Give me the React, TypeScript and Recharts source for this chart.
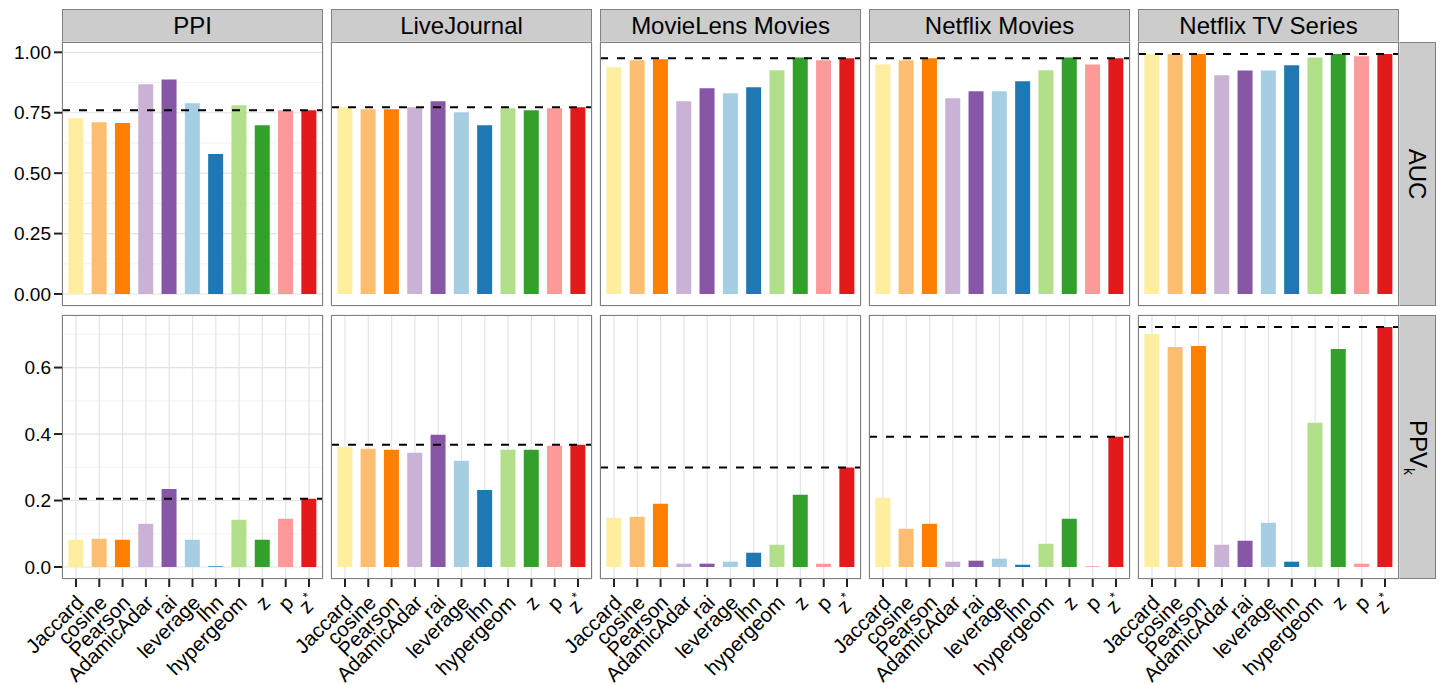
import React from "react";
import { BarChart, Bar, Cell, XAxis, YAxis, CartesianGrid, ReferenceLine } from "recharts";

const methods = ["Jaccard", "cosine", "Pearson", "AdamicAdar", "rai", "leverage", "lhn", "hypergeom", "z", "p", "z*"];
const methodColors = ["#FFEDA0", "#FDBF6F", "#FF7F00", "#CAB2D6", "#8856A7", "#A6CEE3", "#1F78B4", "#B2DF8A", "#33A02C", "#FB9A99", "#E31A1C"];
const datasets = ["PPI", "LiveJournal", "MovieLens Movies", "Netflix Movies", "Netflix TV Series"];

// AUC per dataset (same order as methods)
const aucPPI = [0.727, 0.711, 0.707, 0.868, 0.888, 0.789, 0.579, 0.781, 0.698, 0.76, 0.76];
const aucLiveJournal = [0.773, 0.764, 0.764, 0.773, 0.798, 0.752, 0.698, 0.769, 0.76, 0.769, 0.773];
const aucMovieLens = [0.938, 0.967, 0.971, 0.798, 0.851, 0.831, 0.855, 0.926, 0.979, 0.967, 0.975];
const aucNetflixMovies = [0.95, 0.967, 0.975, 0.81, 0.839, 0.839, 0.88, 0.926, 0.979, 0.95, 0.975];
const aucNetflixTV = [0.993, 0.993, 0.993, 0.905, 0.925, 0.925, 0.946, 0.979, 0.993, 0.984, 0.993];

// PPV_k per dataset
const ppvPPI = [0.082, 0.085, 0.082, 0.13, 0.235, 0.082, 0.002, 0.142, 0.082, 0.145, 0.205];
const ppvLiveJournal = [0.362, 0.356, 0.353, 0.344, 0.398, 0.32, 0.232, 0.353, 0.353, 0.365, 0.368];
const ppvMovieLens = [0.148, 0.151, 0.19, 0.01, 0.01, 0.016, 0.043, 0.067, 0.217, 0.01, 0.299];
const ppvNetflixMovies = [0.208, 0.115, 0.13, 0.016, 0.019, 0.025, 0.007, 0.07, 0.145, 0.002, 0.392];
const ppvNetflixTV = [0.701, 0.662, 0.665, 0.067, 0.079, 0.133, 0.016, 0.434, 0.656, 0.01, 0.722];

const aucTicks = [0, 0.25, 0.5, 0.75, 1];
const aucMinor = [0.125, 0.375, 0.625, 0.875];
const ppvTicks = [0, 0.2, 0.4, 0.6];
const ppvMinor = [0.1, 0.3, 0.5, 0.7];

const FONT = "'Liberation Sans', Arial, Helvetica, sans-serif";
const PANEL_W = 261;
const PANEL_H = 264;
const COL_STEP = 269;
const LEFT0 = 62;
const ROW_TOP = [42, 315];
const Y_AXIS_W = 62;
const X_AXIS_H = 106;

const rows = [
  { name: "AUC", values: [aucPPI, aucLiveJournal, aucMovieLens, aucNetflixMovies, aucNetflixTV], ticks: aucTicks, minor: aucMinor, digits: 2 },
  { name: "PPV", values: [ppvPPI, ppvLiveJournal, ppvMovieLens, ppvNetflixMovies, ppvNetflixTV], ticks: ppvTicks, minor: ppvMinor, digits: 1 },
];

function XTick(props: any) {
  const { x, y, payload } = props;
  const px = x + 9;
  const py = y + 17;
  const label: string = payload.value;
  return (
    <text x={px} y={py} transform={`rotate(-45, ${px}, ${py})`} textAnchor="end" fontSize={20.5} fill="#000" fontFamily={FONT}>
      {label === "z*" ? (
        <>
          <tspan>z</tspan>
          <tspan dy={-9} fontSize={13}>*</tspan>
        </>
      ) : (
        label
      )}
    </text>
  );
}

function Panel({ r, c }: { r: number; c: number }) {
  const row = rows[r];
  const vals = row.values[c];
  const data = methods.map((m, i) => ({ method: m, value: vals[i] }));
  const rowMax = Math.max(...row.values.flat());
  const domain = [-0.05 * rowMax, 1.05 * rowMax];
  const showY = c === 0;
  const showX = r === 1;
  const left = showY ? 0 : LEFT0 + c * COL_STEP;
  const width = PANEL_W + (showY ? Y_AXIS_W : 0);
  const height = PANEL_H + (showX ? X_AXIS_H : 0);
  const ref = vals[vals.length - 1];
  return (
    <div style={{ position: "absolute", left, top: ROW_TOP[r] }}>
      <BarChart width={width} height={height} data={data} margin={{ top: 0, right: 0, bottom: 0, left: 0 }}>
        <CartesianGrid stroke="#f3f3f3" strokeWidth={1.2} vertical={false} horizontalValues={row.minor} />
        <CartesianGrid stroke="#e4e4e4" strokeWidth={1.2} />
        <XAxis
          dataKey="method"
          interval={0}
          padding={{ left: 2.33, right: 2.33 }}
          axisLine={false}
          height={showX ? X_AXIS_H : 0}
          tick={showX ? <XTick /> : false}
          tickLine={showX ? { stroke: "#222", strokeWidth: 2 } : false}
          tickSize={8}
          tickMargin={0}
        />
        <YAxis
          type="number"
          domain={domain}
          allowDataOverflow
          ticks={row.ticks}
          interval={0}
          width={showY ? Y_AXIS_W : 0}
          axisLine={false}
          tick={showY ? { fill: "#000", fontSize: 19, fontFamily: FONT } : false}
          tickLine={showY ? { stroke: "#222", strokeWidth: 2 } : false}
          tickSize={8}
          tickMargin={3}
          tickFormatter={(v: number) => v.toFixed(row.digits)}
        />
        <Bar dataKey="value" barSize={15} isAnimationActive={false}>
          {data.map((d, i) => (
            <Cell key={d.method} fill={methodColors[i]} />
          ))}
        </Bar>
        <ReferenceLine y={ref} stroke="#000" strokeWidth={2} strokeDasharray="8 9" />
      </BarChart>
      <div
        style={{
          position: "absolute",
          left: showY ? Y_AXIS_W : 0,
          top: 0,
          width: PANEL_W,
          height: PANEL_H,
          boxSizing: "border-box",
          border: "1.5px solid #808080",
          pointerEvents: "none",
        }}
      />
    </div>
  );
}

const stripBase: React.CSSProperties = {
  position: "absolute",
  background: "#cccccc",
  boxSizing: "border-box",
  border: "1.5px solid #808080",
  display: "flex",
  alignItems: "center",
  justifyContent: "center",
  fontFamily: FONT,
  fontSize: 24,
  color: "#000",
};

export default function App() {
  return (
    <div style={{ position: "absolute", left: 0, top: 0, width: 1443, height: 685, background: "#fff", fontFamily: FONT, overflow: "hidden" }}>
      <style>{`.recharts-surface, .recharts-wrapper { overflow: visible !important; }`}</style>
      {datasets.map((d, c) => (
        <div key={d} style={{ ...stripBase, left: LEFT0 + c * COL_STEP, top: 9, width: PANEL_W, height: 34 }}>
          {d}
        </div>
      ))}
      {rows.map((row, r) => (
        <div key={row.name} style={{ ...stripBase, left: LEFT0 + 4 * COL_STEP + PANEL_W - 1, top: ROW_TOP[r], width: 38, height: PANEL_H }}>
          <div style={{ transform: "rotate(90deg)", whiteSpace: "nowrap" }}>
            {row.name === "PPV" ? (
              <span>
                PPV<sub style={{ fontSize: 14 }}>k</sub>
              </span>
            ) : (
              row.name
            )}
          </div>
        </div>
      ))}
      {rows.map((row, r) => datasets.map((d, c) => <Panel key={row.name + d} r={r} c={c} />))}
    </div>
  );
}
